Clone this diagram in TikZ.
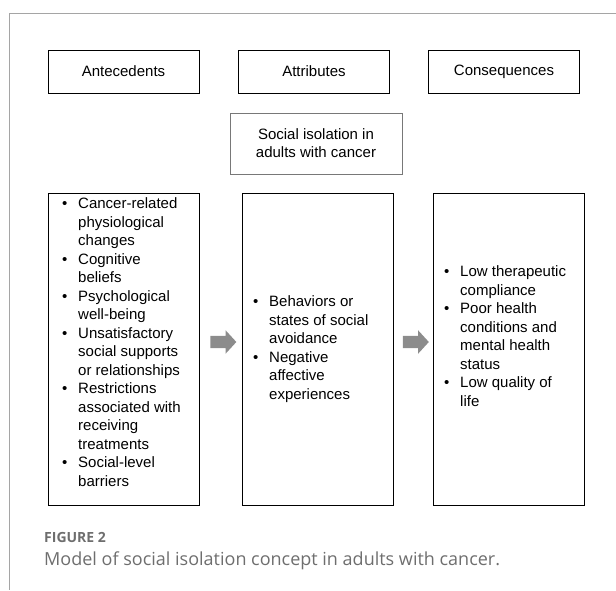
\documentclass[tikz,border=0pt]{standalone}
\usepackage{fontspec}
\setmainfont{Liberation Sans}
\newfontfamily\capfont{Open Sans}
\usetikzlibrary{shapes.arrows,calc}
\definecolor{framegray}{RGB}{165,165,165}
\definecolor{socgray}{RGB}{120,120,120}
\definecolor{arrowgray}{RGB}{140,140,140}
\definecolor{capgray}{RGB}{110,110,110}
\newcommand{\bl}{\makebox[16pt][l]{\textbullet}}
\newcommand{\ct}{\hspace*{16pt}}
\begin{document}
\begin{tikzpicture}[x=1pt,y=-1pt,
  box/.style={draw=black, line width=0.9pt, inner sep=0pt, minimum width=151pt},
  headbox/.style={box, minimum height=43pt, font=\fontsize{15}{18.5}\selectfont},
  bigbox/.style={box, minimum height=312pt},
  lbl/.style={font=\fontsize{15}{18.5}\selectfont, inner sep=0pt, align=left, anchor=west},
  garrow/.style={single arrow, fill=arrowgray, draw=none, minimum height=26pt, single arrow head extend=5.5pt, inner xsep=0pt, inner ysep=6pt, single arrow tip angle=95}
]
\useasboundingbox (0,0) rectangle (616,590);
\draw[framegray, line width=1pt] (616,13) -- (9,13) -- (9,590);

\node[headbox] (ante) at (123.5,71.5) {Antecedents};
\node[headbox] (attr) at (314,71.5) {Attributes};
\node[headbox] (cons) at (504,71.5) {Consequences};

\node[draw=socgray, line width=0.8pt, minimum width=172pt, minimum height=61pt, inner sep=0pt, align=center, font=\fontsize{15}{18}\selectfont] (soc) at (316,143.5) {Social isolation in\\adults with cancer};

\node[bigbox] (L) at (123.5,349) {};
\node[bigbox] (M) at (317.5,349) {};
\node[bigbox] (R) at (508.5,349) {};

\node[lbl] (Ltext) at (62,342) {\bl Cancer-related\\\ct physiological\\\ct changes\\\bl Cognitive\\\ct beliefs\\\bl Psychological\\\ct well-being\\\bl Unsatisfactory\\\ct social supports\\\ct or relationships\\\bl Restrictions\\\ct associated with\\\ct receiving\\\ct treatments\\\bl Social-level\\\ct barriers};
\node[lbl] (Mtext) at (253,349) {\bl Behaviors or\\\ct states of social\\\ct avoidance\\\bl Negative\\\ct affective\\\ct experiences};
\node[lbl] (Rtext) at (444,336) {\bl Low therapeutic\\\ct compliance\\\bl Poor health\\\ct conditions and\\\ct mental health\\\ct status\\\bl Low quality of\\\ct life};

\node[garrow] (a1) at ($(L.east)!0.5!(M.west)+(0,-7)$) {};
\node[garrow] (a2) at ($(M.east)!0.5!(R.west)+(0,-7)$) {};

\node[anchor=west, inner sep=0pt, text=capgray, font=\capfont\bfseries\fontsize{14}{14}\selectfont] (fig) at (44,537) {FIGURE 2};
\node[anchor=west, inner sep=0pt, text=capgray, font=\capfont\fontsize{18}{20}\selectfont] (cap) at (44,561) {Model of social isolation concept in adults with cancer.};
\end{tikzpicture}
\end{document}
